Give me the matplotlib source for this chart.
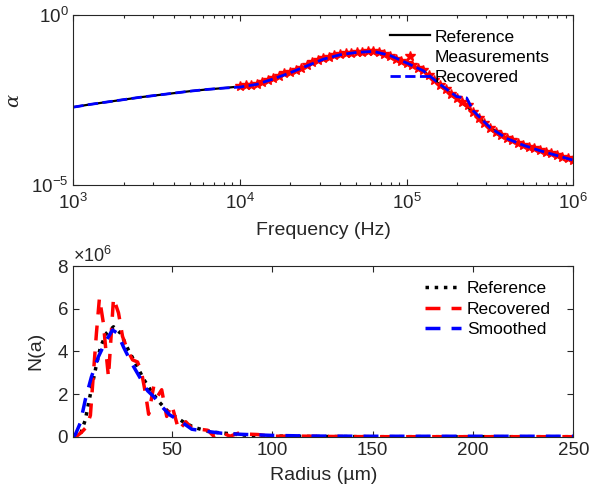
import numpy as np
import matplotlib
matplotlib.use("Agg")
import matplotlib.pyplot as plt
from matplotlib.ticker import LogLocator, NullLocator, ScalarFormatter

# ---- data (top panel), log10 values ----
ref_logf = [3.0, 3.1, 3.2, 3.3, 3.4, 3.5, 3.6, 3.7, 3.8, 3.9, 4.0, 4.1, 4.2, 4.3, 4.4, 4.5,
            4.6, 4.7, 4.8, 4.9, 5.0, 5.1, 5.2, 5.3, 5.4, 5.5, 5.6, 5.7, 5.8, 5.9, 6.0]
ref_loga = [-2.71, -2.63, -2.56, -2.49, -2.42, -2.36, -2.30, -2.24, -2.19, -2.15, -2.10, -2.03,
            -1.87, -1.69, -1.49, -1.29, -1.16, -1.10, -1.08, -1.20, -1.42, -1.64, -2.05, -2.45,
            -2.86, -3.31, -3.62, -3.82, -3.98, -4.12, -4.26]

rec_logf = [3.0, 3.1, 3.2, 3.3, 3.4, 3.5, 3.6, 3.7, 3.8, 3.9, 4.0, 4.1, 4.2, 4.3, 4.4, 4.5,
            4.6, 4.7, 4.8, 4.9, 5.0, 5.1, 5.2, 5.3, 5.36, 5.4, 5.5, 5.6, 5.7, 5.8, 5.9, 6.0]
rec_loga = [-2.71, -2.63, -2.56, -2.49, -2.42, -2.36, -2.30, -2.24, -2.19, -2.15, -2.12, -2.04,
            -1.88, -1.70, -1.50, -1.30, -1.17, -1.10, -1.07, -1.19, -1.41, -1.64, -2.04, -2.40,
            -2.44, -2.82, -3.31, -3.63, -3.83, -3.99, -4.13, -4.27]

meas_logf = np.linspace(4.0, 6.0, 61)
meas_loga = [-2.08, -2.05, -2.07, -2.02, -1.97, -1.92, -1.85, -1.78, -1.72, -1.68,
             -1.63, -1.56, -1.47, -1.39, -1.33, -1.27, -1.23, -1.19, -1.16, -1.13,
             -1.11, -1.09, -1.08, -1.06, -1.07, -1.09, -1.15, -1.22, -1.29, -1.35,
             -1.42, -1.48, -1.55, -1.63, -1.77, -1.92, -2.06, -2.19, -2.32, -2.45,
             -2.55, -2.66, -2.85, -3.02, -3.18, -3.31, -3.43, -3.53, -3.62, -3.69,
             -3.76, -3.82, -3.87, -3.92, -3.97, -4.02, -4.07, -4.12, -4.17, -4.22, -4.26]

# ---- data (bottom panel), N(a) in units of 1e6 ----
radius_ref = [1, 3, 4.5, 7, 9.5, 12, 14.5, 17.5, 21, 24.5, 28.5, 32.5, 36, 40, 44, 48, 52,
              56, 61, 67, 72, 78, 84, 90, 100, 120, 150, 200, 250]
n_ref = [0, 0, 0.1, 0.8, 2.0, 3.15, 4.2, 4.85, 5.15, 4.85, 4.05, 3.35, 2.7, 2.1, 1.6, 1.2, 0.92,
         0.68, 0.44, 0.28, 0.2, 0.15, 0.09, 0.05, 0.03, 0.01, 0, 0, 0]

radius_rec = [1, 3, 5, 7.5, 9.5, 11, 12.5, 14, 16, 17.5, 18.5, 20, 21, 23.5, 25.5, 28, 30.5,
              33, 35, 37, 38.5, 41, 43, 45, 47.5, 50, 53.5, 57, 60, 64, 68, 71, 75, 79, 83,
              88, 93, 99, 110, 130, 150, 200, 250]
n_rec = [0, 0.05, 0.2, 0.45, 1.0, 2.95, 4.85, 6.5, 5.3, 3.75, 2.8, 5.0, 6.5, 5.8, 4.7, 4.05, 3.6,
         3.5, 3.0, 2.0, 1.05, 2.35, 1.9, 2.2, 0.95, 1.5, 0.3, 0.7, 0.4, 0.35, 0.3, 0.02, 0.2, 0.02,
         0.16, 0.12, 0.1, 0.02, 0.03, 0.01, 0.0, 0.0, 0.0]

radius_sm = [1, 2, 4.5, 7, 10, 13.5, 17, 20.5, 23, 26, 30, 34, 38, 41, 45, 49, 53, 57, 60, 65,
             70, 75, 85, 100, 120, 150, 200, 250]
n_sm = [0, 0.1, 0.65, 1.75, 2.8, 3.75, 4.45, 5.0, 4.85, 4.2, 3.45, 2.8, 2.15, 1.88, 1.42, 1.02,
        0.8, 0.55, 0.35, 0.28, 0.22, 0.16, 0.11, 0.06, 0.03, 0.02, 0.02, 0.02]

# ---- style ----
plt.rcParams['font.family'] = ['Liberation Sans', 'DejaVu Sans']
plt.rcParams['mathtext.fontset'] = 'custom'
plt.rcParams['mathtext.rm'] = 'Liberation Sans'
plt.rcParams['mathtext.it'] = 'Liberation Sans:italic'
axcol = '#262626'

fig = plt.figure(figsize=(5.89, 4.90), dpi=100)
ax1 = fig.add_axes([0.1245, 0.6224, 0.8489, 0.347])
ax2 = fig.add_axes([0.1245, 0.1088, 0.8489, 0.3483])

# top panel
ax1.plot(10.0 ** np.array(ref_logf), 10.0 ** np.array(ref_loga), color='black', lw=1.6,
         label='Reference')
ax1.plot(10.0 ** meas_logf, 10.0 ** np.array(meas_loga), linestyle='none', marker='*',
         color='red', markersize=7, label='Measurements')
ax1.plot(10.0 ** np.array(rec_logf), 10.0 ** np.array(rec_loga), color='blue', lw=2,
         linestyle='--', label='Recovered')
ax1.set_xscale('log')
ax1.set_yscale('log')
ax1.set_xlim(1e3, 1e6)
ax1.set_ylim(1e-5, 1e0)
ax1.set_yticks([1e-5, 1e0])
ax1.yaxis.set_minor_locator(NullLocator())
ax1.xaxis.set_major_locator(LogLocator(base=10))
ax1.xaxis.set_minor_locator(LogLocator(base=10, subs=np.arange(2, 10)))
ax1.set_xlabel('Frequency (Hz)', fontsize=14, color=axcol)
ax1.set_ylabel('α', fontsize=14, family=['DejaVu Serif'], style='italic', color=axcol)
ax1.xaxis.set_label_coords(0.5, -0.215)
ax1.yaxis.set_label_coords(-0.103, 0.5)
ax1.legend(loc='upper left', bbox_to_anchor=(0.662, 0.940), bbox_transform=fig.transFigure,
           frameon=False, fontsize=12.5, handlelength=2.3, handletextpad=0.3,
           labelspacing=0.3, borderpad=0, borderaxespad=0, numpoints=1)

# bottom panel
ax2.plot(radius_ref, np.array(n_ref) * 1e6, color='black', lw=2.5, linestyle=':',
         label='Reference')
ax2.plot(radius_rec, np.array(n_rec) * 1e6, color='red', lw=2.5, dashes=(4.3, 3.2),
         label='Recovered')
ax2.plot(radius_sm, np.array(n_sm) * 1e6, color='blue', lw=2.5, dashes=(4.3, 3.2),
         label='Smoothed')
ax2.set_xlim(1, 250)
ax2.set_ylim(0, 8e6)
ax2.set_xticks([50, 100, 150, 200, 250])
ax2.set_yticks([0, 2e6, 4e6, 6e6, 8e6])
fmt = ScalarFormatter(useMathText=True)
fmt.set_powerlimits((0, 0))
ax2.yaxis.set_major_formatter(fmt)
ax2.yaxis.get_offset_text().set_fontsize(13)
ax2.yaxis.get_offset_text().set_color(axcol)
ax2.set_xlabel('Radius (µm)', fontsize=14, color=axcol)
ax2.set_ylabel('N(a)', fontsize=14, color=axcol)
ax2.xaxis.set_label_coords(0.5, -0.175)
ax2.yaxis.set_label_coords(-0.057, 0.5)
ax2.legend(loc='upper left', bbox_to_anchor=(0.7216, 0.426), bbox_transform=fig.transFigure,
           frameon=False, fontsize=12.5, handlelength=2.1, handletextpad=0.3,
           labelspacing=0.3, borderpad=0, borderaxespad=0)

for ax in (ax1, ax2):
    ax.tick_params(which='both', direction='in', top=True, right=True, colors=axcol,
                   labelsize=13.5, width=0.8)
    ax.tick_params(which='major', length=4)
    ax.tick_params(which='minor', length=2.5)
    for sp in ax.spines.values():
        sp.set_color(axcol)
        sp.set_linewidth(0.8)
    for t in ax.get_legend().get_texts():
        t.set_color('black')
ax1.tick_params(axis='x', which='both', pad=6)

fig.savefig('out.png', dpi=100)
